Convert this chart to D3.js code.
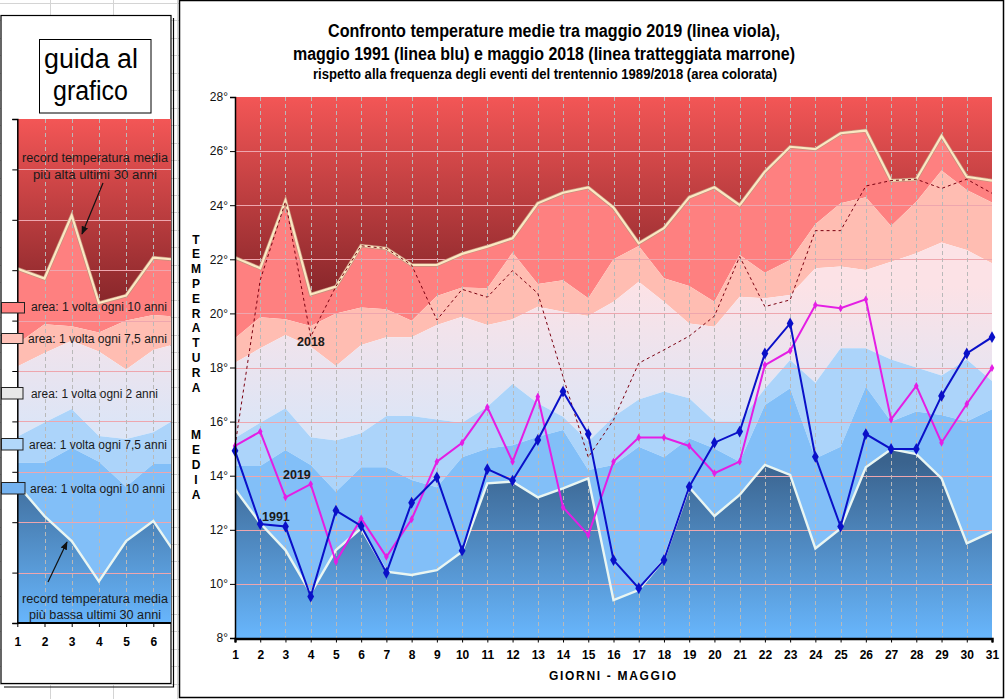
<!DOCTYPE html>
<html><head><meta charset="utf-8">
<script src="https://cdn.jsdelivr.net/npm/d3@7"></script>
<style>body{margin:0;background:#fff}svg{display:block;font-family:Arial,"Liberation Sans",sans-serif}</style>
</head><body><svg id="c" width="1005" height="699"></svg>
<script>
// ---------------- DATA ----------------
const days = d3.range(1, 32);
const recordHigh = [22.06,21.67,24.17,20.7,20.99,22.5,22.4,21.79,21.79,22.2,22.47,22.78,24.07,24.46,24.66,23.91,22.59,23.15,24.29,24.66,24.0,25.24,26.16,26.07,26.66,26.76,24.91,24.96,26.56,25.05,24.91];
const hot10 = [19.08,19.86,19.78,19.53,20.0,20.22,20.15,19.73,20.64,20.96,20.93,22.25,21.09,21.23,20.56,22.0,22.49,21.3,21.01,20.43,22.16,21.5,21.97,23.3,24.07,24.29,23.23,24.13,25.28,24.56,24.1];
const hot75 = [18.18,18.71,19.2,18.77,18.06,18.83,19.12,19.12,19.57,19.88,19.57,19.78,20.25,20.06,19.9,20.43,21.17,20.43,19.63,19.51,20.62,20.56,20.68,21.67,21.73,21.6,21.91,22.22,22.62,22.34,21.85];
const cold75 = [15.39,15.96,16.49,15.42,15.3,15.57,16.21,16.21,16.08,15.96,16.55,17.39,16.68,16.18,15.26,16.18,16.82,17.11,16.86,16.0,16.0,17.22,18.28,17.44,18.71,18.71,18.3,18.0,17.7,18.3,17.5];
const cold10 = [14.36,14.36,14.95,14.4,13.41,14.31,14.31,13.84,13.57,14.68,15.01,15.13,15.44,15.69,14.21,14.4,15.07,14.68,15.38,15.01,14.52,16.61,17.23,14.64,15.07,17.29,16.0,16.37,16.24,16.0,16.46];
const recordLow = [13.5,12.24,11.25,9.65,11.25,12.05,10.45,10.33,10.51,11.19,13.72,13.78,13.2,13.53,13.9,9.4,9.77,10.9,13.57,12.51,13.29,14.4,14.03,11.31,12.05,14.31,14.98,14.8,13.9,11.5,11.93];
const may2019 = [15.1,15.63,13.2,13.69,10.82,12.42,11.0,12.39,14.52,15.22,16.53,14.52,16.92,12.83,11.81,14.52,15.41,15.41,15.1,14.09,14.52,18.09,18.62,20.31,20.19,20.52,16.08,17.32,15.22,16.65,17.98];
const may1991 = [14.92,12.21,12.12,9.53,12.71,12.14,10.41,13.0,13.94,11.23,14.24,13.82,15.32,17.11,15.54,10.88,9.84,10.88,13.59,15.22,15.63,18.52,19.63,14.7,12.12,15.54,14.99,14.99,16.95,18.52,19.12];
const may2018 = [15.1,21.23,24.13,19.14,21.0,22.5,22.4,21.79,19.76,20.89,20.6,21.58,20.74,17.66,14.68,16.06,18.16,18.65,19.16,19.9,22.1,20.25,20.5,23.06,23.06,24.71,24.91,24.96,24.62,24.96,24.44];
const yTicks = [8,10,12,14,16,18,20,22,24,26,28];
const titleLines = ["Confronto temperature medie tra maggio 2019 (linea viola),","maggio 1991 (linea blu) e maggio 2018 (linea tratteggiata marrone)","rispetto alla frequenza degli eventi del trentennio 1989/2018 (area colorata)"];
const yTitle1 = "TEMPERATURA", yTitle2 = "MEDIA";
const xTitle = "GIORNI - MAGGIO";
const guideTitle = ["guida al","grafico"];
const legendLabels = ["area: 1 volta ogni 10 anni","area: 1 volta ogni 7,5 anni","area: 1 volta ogni 2 anni","area: 1 volta ogni 7,5 anni","area: 1 volta ogni 10 anni"];
const noteHigh = ["record temperatura media","più alta ultimi 30 anni"];
const noteLow = ["record temperatura media","più bassa ultimi 30 anni"];
const seriesLabels = ["2018","2019","1991"];

// ---------------- SETUP ----------------
const svg = d3.select("#c");
const defs = svg.append("defs");
function grad(id, y1, y2, c1, c2){
  const g = defs.append("linearGradient").attr("id", id).attr("gradientUnits","userSpaceOnUse")
    .attr("x1",0).attr("x2",0).attr("y1",y1).attr("y2",y2);
  g.append("stop").attr("offset",0).attr("stop-color",c1);
  g.append("stop").attr("offset",1).attr("stop-color",c2);
}
const C = {salmon:"#fe8080", lsalmon:"#ffbdb2", lblue:"#acd4fa", mblue:"#82bff8"};

// excel background grid
const bg = svg.append("g").attr("stroke","#d4d4d4").attr("stroke-width",1);
for (let k=0;k<41;k++){ const yy = Math.round(3+17.45*k)+0.5; bg.append("line").attr("x1",0).attr("x2",180).attr("y1",yy).attr("y2",yy); }
[50,113,177].forEach(xx=>bg.append("line").attr("x1",xx+0.5).attr("x2",xx+0.5).attr("y1",0).attr("y2",699));

function drawChart(g, x, y, id, x0, x1){
  grad(id+"top", y(28), y(20.5), "#f35656", "#852529");
  grad(id+"pale", y(21), y(16), "#fce2e6", "#dde5f6");
  grad(id+"bot", y(14.5), y(8), "#3a638e", "#68b6fc");
  defs.append("clipPath").attr("id", id+"clip").append("rect")
    .attr("x", x0).attr("y", y(28)).attr("width", x1-x0).attr("height", y(8)-y(28));
  const cg = g.append("g").attr("clip-path", `url(#${id}clip)`);
  const top = days.map(()=>28), bot = days.map(()=>8);
  const bands = [
    [recordHigh, top, `url(#${id}top)`],
    [hot10, recordHigh, C.salmon],
    [hot75, hot10, C.lsalmon],
    [cold75, hot75, `url(#${id}pale)`],
    [cold10, cold75, C.lblue],
    [recordLow, cold10, C.mblue],
    [bot, recordLow, `url(#${id}bot)`]
  ];
  const area = d3.area().x((d,i)=>x(days[i])).y0(d=>y(d[0])).y1(d=>y(d[1]));
  bands.forEach(([lo,hi,fill])=>{
    cg.append("path").datum(days.map((d,i)=>[lo[i],hi[i]])).attr("d",area).attr("fill",fill);
  });
  // grid
  yTicks.slice(1,-1).forEach(t=>cg.append("line").attr("x1",x0).attr("x2",x1)
    .attr("y1",Math.round(y(t))+0.5).attr("y2",Math.round(y(t))+0.5).attr("stroke","#eea6ae").attr("stroke-width",1));
  days.slice(1,-1).forEach(d=>cg.append("line").attr("x1",Math.round(x(d))+0.5).attr("x2",Math.round(x(d))+0.5)
    .attr("y1",y(28)).attr("y2",y(8)).attr("stroke","#b9b9b9").attr("stroke-width",1).attr("stroke-dasharray","4,3"));
  const line = d3.line().x((d,i)=>x(days[i])).y(d=>y(d));
  cg.append("path").datum(recordHigh).attr("d",line).attr("fill","none").attr("stroke","#c4907c").attr("stroke-width",3.6);
  cg.append("path").datum(recordHigh).attr("d",line).attr("fill","none").attr("stroke","#fbe8c2").attr("stroke-width",2.2);
  cg.append("path").datum(recordLow).attr("d",line).attr("fill","none").attr("stroke","#eaf6f2").attr("stroke-width",2.4);
  return {cg, line};
}

// ---------------- LEFT GUIDE PANEL ----------------
svg.append("rect").attr("x",1).attr("y",15.5).attr("width",170).attr("height",668).attr("fill","#fff").attr("stroke","#000").attr("stroke-width",1.2);
svg.append("path").attr("d","M4,687 H173.5 V18").attr("fill","none").attr("stroke","#000").attr("stroke-width",1.2);
svg.append("rect").attr("x",39.5).attr("y",39.5).attr("width",111.5).attr("height",73.5).attr("fill","#fff").attr("stroke","#000").attr("stroke-width",1);
svg.append("text").attr("x",91).attr("y",67.5).attr("text-anchor","middle").attr("font-size",27).attr("textLength",94).attr("lengthAdjust","spacingAndGlyphs").text(guideTitle[0]);
svg.append("text").attr("x",90.5).attr("y",100).attr("text-anchor","middle").attr("font-size",27).attr("textLength",75).attr("lengthAdjust","spacingAndGlyphs").text(guideTitle[1]);

const xm = d3.scaleLinear().domain([1,6]).range([17.3,153.3]);
const ym = d3.scaleLinear().domain([8,28]).range([623,119]);
const mg = svg.append("g");
drawChart(mg, xm, ym, "m", 17.3, 171);
mg.append("g").attr("transform","translate(17.3,0)").call(d3.axisLeft(ym).tickValues(yTicks).tickSize(5).tickFormat(""))
  .call(a=>a.select(".domain").attr("stroke-width",1.5));
mg.append("g").attr("transform","translate(0,623)").call(d3.axisBottom(xm).tickValues([1,2,3,4,5,6]).tickSize(4).tickPadding(10.5).tickFormat(d3.format("d")))
  .call(a=>{a.select(".domain").attr("stroke-width",2).attr("d","M17.3,0H171");a.selectAll("text").attr("font-size",12).attr("font-weight","bold").attr("font-family","Arial, Liberation Sans, sans-serif");});

// notes
function note(lines, ys, widths){
  lines.forEach((t,i)=>svg.append("text").attr("x",95).attr("y",ys[i]).attr("text-anchor","middle").attr("font-size",12.5)
    .attr("fill","#1a1a1a").attr("textLength",widths[i]).attr("lengthAdjust","spacingAndGlyphs").text(t));
}
note(noteHigh,[161.5,178.5],[146,124]);
note(noteLow,[602.5,618.5],[146,132]);
defs.append("marker").attr("id","arr").attr("viewBox","0 0 10 10").attr("refX",9).attr("refY",5).attr("markerWidth",7).attr("markerHeight",7).attr("orient","auto")
  .append("path").attr("d","M0,1 L10,5 L0,9 Z").attr("fill","#111");
svg.append("line").attr("x1",103).attr("y1",183).attr("x2",82).attr("y2",234).attr("stroke","#111").attr("stroke-width",1.2).attr("marker-end","url(#arr)");
svg.append("line").attr("x1",48).attr("y1",582).attr("x2",67).attr("y2",542).attr("stroke","#111").attr("stroke-width",1.2).attr("marker-end","url(#arr)");

// legend
const legFill = ["#ff7f7f","#ffc2b8","#e8e8e8","#b2d8fa","#74b2f0"];
const legBox = [[302.5,10.5,23],[333.5,10,21.5],[387.5,11.5,21.5],[438.5,11.5,21.5],[482.5,11.5,23.5]];
const legText = [[31,311,136],[28,343,139],[31,397.5,127],[29,449,138],[30,492.5,135]];
legendLabels.forEach((t,i)=>{
  svg.append("rect").attr("x",1.5).attr("y",legBox[i][0]).attr("width",legBox[i][2]).attr("height",legBox[i][1]).attr("fill",legFill[i]).attr("stroke","#222").attr("stroke-width",1);
  svg.append("text").attr("x",legText[i][0]).attr("y",legText[i][1]).attr("font-size",12).attr("fill","#1a1a1a")
    .attr("textLength",legText[i][2]).attr("lengthAdjust","spacingAndGlyphs").text(t);
});

// ---------------- MAIN CHART ----------------
svg.append("rect").attr("x",179.5).attr("y",0.5).attr("width",824).attr("height",697).attr("fill","#fff").attr("stroke","#000").attr("stroke-width",1.5);
const x = d3.scaleLinear().domain([1,31]).range([235,992]);
const y = d3.scaleLinear().domain([8,28]).range([638,97]);
const g = svg.append("g");
const {cg, line} = drawChart(g, x, y, "p", 235, 992);

cg.append("path").datum(may2018).attr("d",line).attr("fill","none").attr("stroke","#7a0010").attr("stroke-width",1).attr("stroke-dasharray","3,3");
cg.append("path").datum(may2019).attr("d",line).attr("fill","none").attr("stroke","#e41ee4").attr("stroke-width",2);
cg.append("path").datum(may1991).attr("d",line).attr("fill","none").attr("stroke","#0a10c8").attr("stroke-width",2);
g.selectAll(".m19").data(may2019).enter().append("path").attr("transform",(d,i)=>`translate(${x(days[i])},${y(d)})`)
  .attr("d",d3.symbol(d3.symbolDiamond,18)).attr("fill","#e41ee4");
g.selectAll(".m91").data(may1991).enter().append("path").attr("transform",(d,i)=>`translate(${x(days[i])},${y(d)})`)
  .attr("d",d3.symbol(d3.symbolDiamond,40)).attr("fill","#0a10c8");

const lblPos = [[297,346],[283,479],[262,521]];
seriesLabels.forEach((t,i)=>svg.append("text").attr("x",lblPos[i][0]).attr("y",lblPos[i][1]).attr("font-size",12.5).attr("font-weight","bold").attr("fill","#1a1a1a").text(t));

// axes
g.append("g").attr("transform","translate(235,0)").call(d3.axisLeft(y).tickValues(yTicks).tickSize(5).tickPadding(2).tickFormat(d=>d+"°"))
  .call(a=>{a.select(".domain").attr("stroke-width",1.5);a.selectAll("text").attr("font-size",12).attr("font-family","Arial, Liberation Sans, sans-serif").attr("fill","#111");});
g.append("g").attr("transform","translate(0,638.5)").call(d3.axisBottom(x).tickValues(days).tickSize(4).tickPadding(8).tickFormat(d3.format("d")))
  .call(a=>{a.select(".domain").attr("stroke-width",2.5);a.selectAll("text").attr("font-size",12).attr("font-weight","bold").attr("font-family","Arial, Liberation Sans, sans-serif");});

// titles
const tl = [[554,36.5,18,452],[544,59.5,18,502],[545,79,14,464]];
titleLines.forEach((t,i)=>svg.append("text").attr("x",tl[i][0]).attr("y",tl[i][1]).attr("text-anchor","middle").attr("font-size",tl[i][2])
  .attr("font-weight","bold").attr("textLength",tl[i][3]).attr("lengthAdjust","spacingAndGlyphs").text(t));
yTitle1.split("").forEach((c,i)=>svg.append("text").attr("x",196).attr("y",239.3+14.8*i+4.3).attr("text-anchor","middle").attr("font-size",12).attr("font-weight","bold").text(c));
yTitle2.split("").forEach((c,i)=>svg.append("text").attr("x",196).attr("y",435+14.8*i+4.3).attr("text-anchor","middle").attr("font-size",12).attr("font-weight","bold").text(c));
svg.append("text").attr("x",612.5).attr("y",679.5).attr("text-anchor","middle").attr("font-size",12).attr("font-weight","bold")
  .attr("textLength",127).attr("lengthAdjust","spacing").text(xTitle);
</script></body></html>
